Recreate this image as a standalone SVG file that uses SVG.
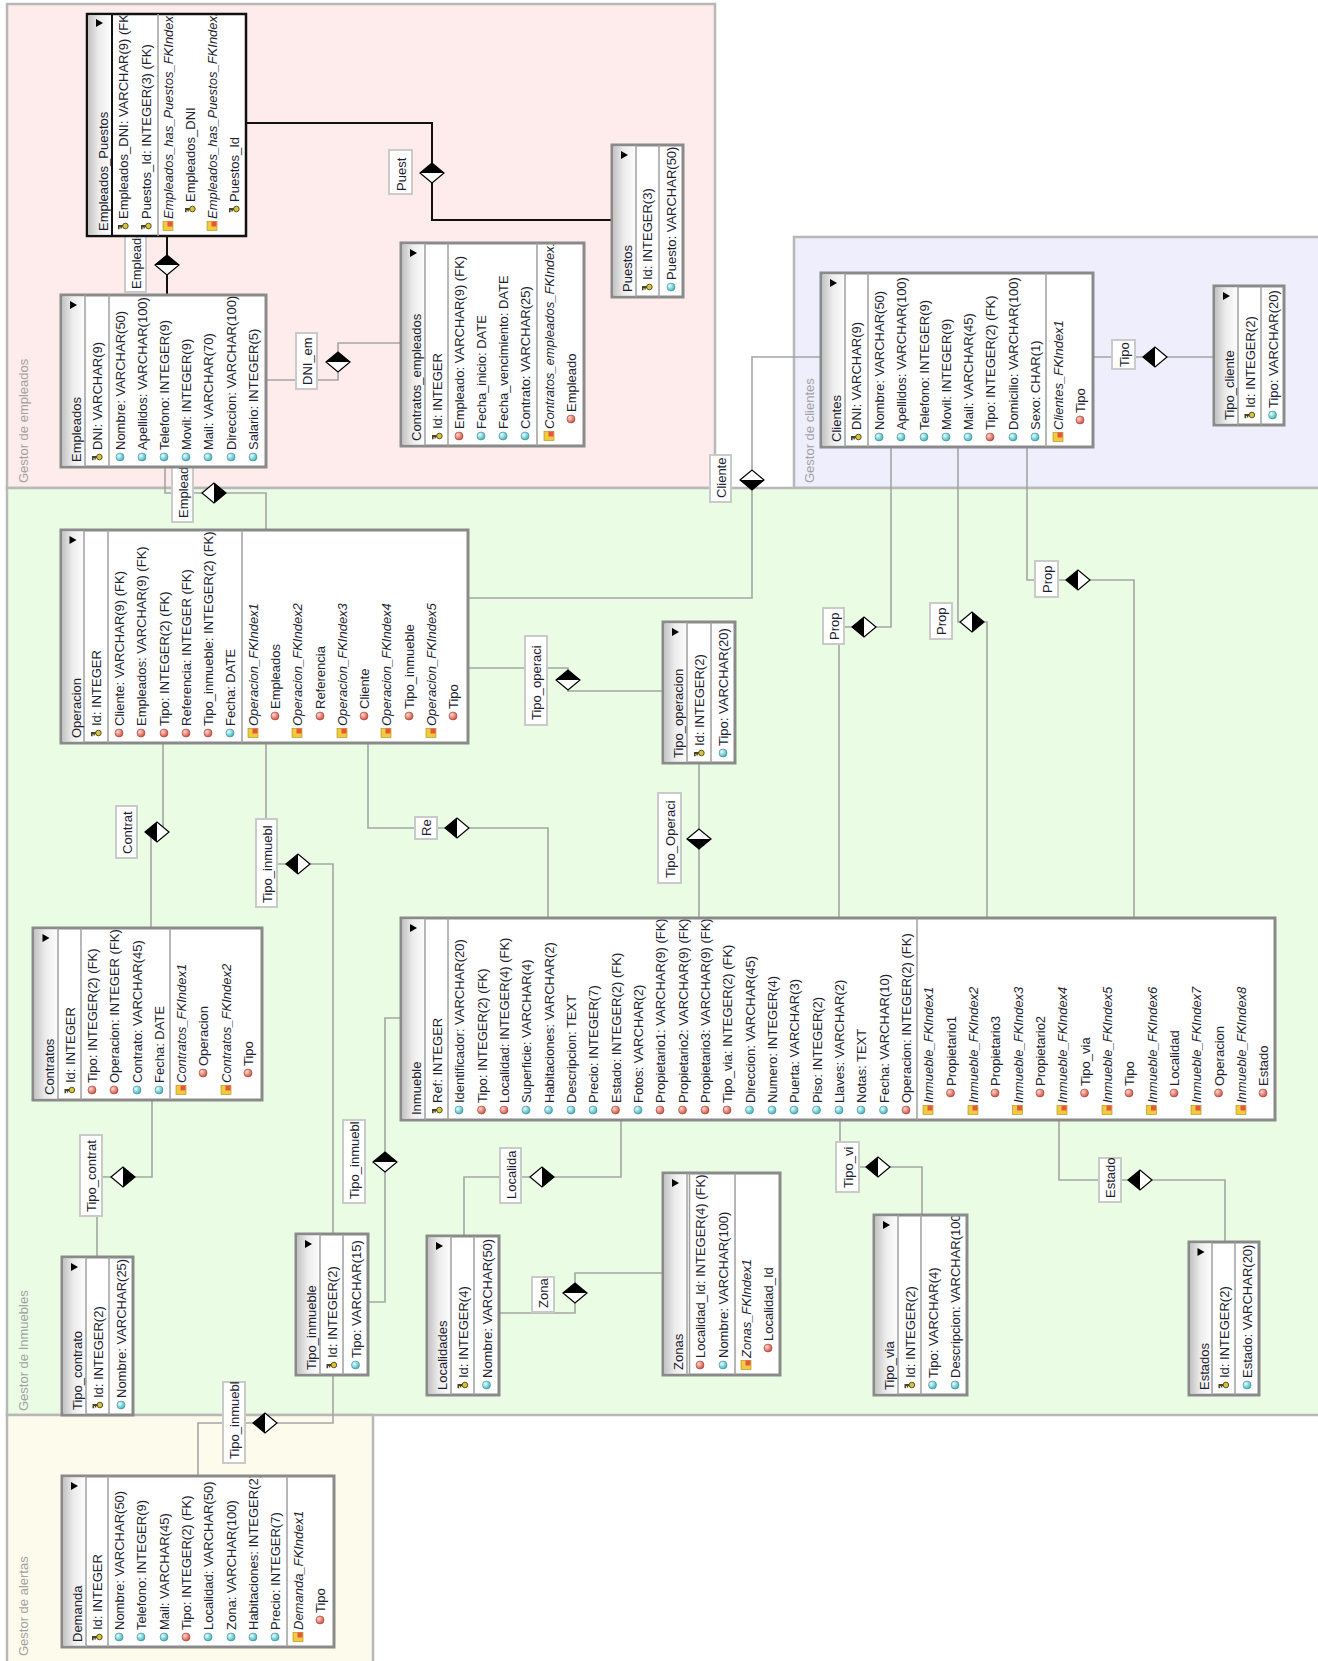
<svg xmlns="http://www.w3.org/2000/svg" width="1318" height="1661" viewBox="0 0 1318 1661">
<defs>
<style>
.t{font-family:"Liberation Sans",Arial,sans-serif;font-size:13px;fill:#1e1e30}
.i{font-style:italic}
.rg{font-family:"Liberation Sans",Arial,sans-serif;font-size:13px;fill:#a3a3a3}
.tb{fill:#fff;stroke:#8a8a8a;stroke-width:3}
.tbs{fill:#fff;stroke:#111;stroke-width:2.5}
.sp{stroke:#a0a0a0;stroke-width:1.5;fill:none}
.spk{stroke:#111;stroke-width:2;fill:none}
.hd{fill:url(#gh)}
.cn{fill:none;stroke:#a5a5a5;stroke-width:1.6}
.ck{fill:none;stroke:#111;stroke-width:2}
.lb{fill:#fff;stroke:#cacaca;stroke-width:2}
.reg{stroke:#b8b8b8;stroke-width:2.5}
</style>
<linearGradient id="gh" x1="0" y1="0" x2="1" y2="0"><stop offset="0" stop-color="#c4c4c4"/><stop offset="0.45" stop-color="#ececec"/><stop offset="1" stop-color="#fdfdfd"/></linearGradient>
<radialGradient id="gc" cx="0.35" cy="0.35" r="0.7"><stop offset="0" stop-color="#e8ffff"/><stop offset="1" stop-color="#38aebb"/></radialGradient>
<radialGradient id="gr" cx="0.35" cy="0.35" r="0.7"><stop offset="0" stop-color="#ffd8d0"/><stop offset="1" stop-color="#cc4b3c"/></radialGradient>
<g id="k"><path d="M-5-1h5v2h-5zM-5 1h1.6v2.2h-1.6zM-2.6 1h1.4v1.6h-1.4z" fill="#4a4420"/><circle cx="2.4" cy="0" r="2.8" fill="#d8c33a" stroke="#4a4420" stroke-width="0.9"/></g>
<circle id="c" r="4" fill="url(#gc)" stroke="#3d8f99" stroke-width="0.6"/>
<circle id="r" r="4" fill="url(#gr)" stroke="#a84030" stroke-width="0.6"/>
<g id="x"><rect x="-5" y="-4.5" width="10" height="9" fill="#f0cc3c" stroke="#b08a18" stroke-width="0.6"/><rect x="-0.5" y="-4.5" width="5" height="5" fill="#e8553d"/></g>
<g id="dt"><path d="M-12 0L0-10L12 0L0 10Z" fill="#fff" stroke="#000" stroke-width="1.2"/><path d="M-12 0L0-10L12 0Z"/></g>
<g id="db"><path d="M-12 0L0-10L12 0L0 10Z" fill="#fff" stroke="#000" stroke-width="1.2"/><path d="M-12 0L0 10L12 0Z"/></g>
<g id="dl"><path d="M-12 0L0-10L12 0L0 10Z" fill="#fff" stroke="#000" stroke-width="1.2"/><path d="M0-10L-12 0L0 10Z"/></g>
<g id="dr"><path d="M-12 0L0-10L12 0L0 10Z" fill="#fff" stroke="#000" stroke-width="1.2"/><path d="M0-10L12 0L0 10Z"/></g>
<clipPath id="c1"><rect x="88.5" y="15.5" width="156" height="219"/></clipPath>
<clipPath id="c2"><rect x="613.5" y="146.5" width="68" height="149"/></clipPath>
<clipPath id="c3"><rect x="62.5" y="296.5" width="202" height="169"/></clipPath>
<clipPath id="c4"><rect x="402.5" y="244.5" width="180" height="200"/></clipPath>
<clipPath id="c5"><rect x="822.5" y="274.5" width="269" height="171"/></clipPath>
<clipPath id="c6"><rect x="1215.5" y="287.5" width="67" height="136"/></clipPath>
<clipPath id="c7"><rect x="62.5" y="531.5" width="404" height="210"/></clipPath>
<clipPath id="c8"><rect x="664.5" y="623.5" width="69" height="138"/></clipPath>
<clipPath id="c9"><rect x="34.5" y="929.5" width="226" height="169"/></clipPath>
<clipPath id="c10"><rect x="402.5" y="919.5" width="871" height="199"/></clipPath>
<clipPath id="c11"><rect x="63.5" y="1258.5" width="68" height="155"/></clipPath>
<clipPath id="c12"><rect x="297.5" y="1235.5" width="69" height="138"/></clipPath>
<clipPath id="c13"><rect x="428.5" y="1237.5" width="69" height="156"/></clipPath>
<clipPath id="c14"><rect x="664.5" y="1174.5" width="114" height="199"/></clipPath>
<clipPath id="c15"><rect x="875.5" y="1216.5" width="90" height="177"/></clipPath>
<clipPath id="c16"><rect x="1190.5" y="1243.5" width="67" height="150"/></clipPath>
<clipPath id="c17"><rect x="63.5" y="1477.5" width="269" height="168"/></clipPath>
</defs>

<g id="regions">
<rect class="reg" x="7" y="4" width="708" height="484" fill="#fdeceb"/>
<rect class="reg" x="794" y="237" width="540" height="251" fill="#eeeefd"/>
<rect class="reg" x="7" y="488" width="1330" height="927" fill="#eafde4"/>
<rect class="reg" x="7" y="1415" width="366" height="270" fill="#fdfbec"/>
</g>

<g id="connectors">
<path class="ck" d="M246 123H432V220H612M167 236V295"/>
<path class="cn" d="M266 380H338V343H401M165 467V493H266V530M821 357H752V598H468M1093 357H1214M468 668H568V691H663M699 763V918M891 447V627H839V918M958 447V622H987V918M1027 447V580H1134V918M163 743V832H151V928M266 743V864H333V1234M368 743V828H548V918M152 1100V1177H97V1257M401 1018H385V1302H368M333 1375V1423H198V1476M621 1120V1177H464V1236M663 1273H575V1313H499M840 1120V1167H922V1215M1059 1120V1180H1225V1242"/>
<rect class="lb" x="389" y="150" width="23" height="44"/><text class="t" transform="translate(405.5,191)rotate(-90)">Puest</text>
<rect class="lb" x="125" y="222" width="21" height="70"/><text class="t" transform="translate(140.5,289)rotate(-90)">Empleado</text>
<rect class="lb" x="296" y="333" width="21" height="56"/><text class="t" transform="translate(311.5,385)rotate(-90)">DNI_em</text>
<rect class="lb" x="172" y="455" width="21" height="67"/><text class="t" transform="translate(187.5,518)rotate(-90)">Empleado</text>
<rect class="lb" x="710" y="455" width="21" height="47"/><text class="t" transform="translate(725.5,498)rotate(-90)">Cliente</text>
<rect class="lb" x="1112" y="340" width="23" height="29"/><text class="t" transform="translate(1128.5,367)rotate(-90)">Tipo</text>
<rect class="lb" x="525" y="636" width="22" height="89"/><text class="t" transform="translate(541,720)rotate(-90)">Tipo_operaci</text>
<rect class="lb" x="658" y="793" width="23" height="90"/><text class="t" transform="translate(674.5,878)rotate(-90)">Tipo_Operaci</text>
<rect class="lb" x="823" y="608" width="21" height="36"/><text class="t" transform="translate(838.5,640)rotate(-90)">Prop</text>
<rect class="lb" x="930" y="603" width="22" height="36"/><text class="t" transform="translate(946,635)rotate(-90)">Prop</text>
<rect class="lb" x="1035" y="561" width="23" height="36"/><text class="t" transform="translate(1051.5,593)rotate(-90)">Prop</text>
<rect class="lb" x="116" y="806" width="21" height="52"/><text class="t" transform="translate(131.5,854)rotate(-90)">Contrat</text>
<rect class="lb" x="256" y="819" width="21" height="88"/><text class="t" transform="translate(271.5,903)rotate(-90)">Tipo_inmuebl</text>
<rect class="lb" x="415" y="817" width="22" height="22"/><text class="t" transform="translate(431,836)rotate(-90)">Re</text>
<rect class="lb" x="80" y="1135" width="22" height="81"/><text class="t" transform="translate(96,1212)rotate(-90)">Tipo_contrat</text>
<rect class="lb" x="343" y="1120" width="22" height="83"/><text class="t" transform="translate(359,1199)rotate(-90)">Tipo_inmuebl</text>
<rect class="lb" x="223" y="1382" width="22" height="81"/><text class="t" transform="translate(239,1459)rotate(-90)">Tipo_inmuebl</text>
<rect class="lb" x="500" y="1148" width="21" height="55"/><text class="t" transform="translate(515.5,1199)rotate(-90)">Localida</text>
<rect class="lb" x="532" y="1277" width="22" height="35"/><text class="t" transform="translate(548,1308)rotate(-90)">Zona</text>
<rect class="lb" x="836" y="1142" width="23" height="50"/><text class="t" transform="translate(852.5,1188)rotate(-90)">Tipo_vi</text>
<rect class="lb" x="1099" y="1158" width="22" height="44"/><text class="t" transform="translate(1115,1198)rotate(-90)">Estado</text>
<use href="#dt" x="432" y="173"/>
<use href="#dt" x="167" y="265"/>
<use href="#dt" x="338" y="362"/>
<use href="#dr" x="214" y="493"/>
<use href="#db" x="752" y="480"/>
<use href="#dl" x="1155" y="357"/>
<use href="#dt" x="568" y="680"/>
<use href="#db" x="699" y="839"/>
<use href="#dl" x="864" y="627"/>
<use href="#dr" x="972" y="622"/>
<use href="#dl" x="1078" y="580"/>
<use href="#dl" x="157" y="832"/>
<use href="#dl" x="298" y="864"/>
<use href="#dl" x="457" y="828"/>
<use href="#dr" x="123" y="1177"/>
<use href="#dt" x="385" y="1162"/>
<use href="#dl" x="265" y="1423"/>
<use href="#dr" x="542" y="1177"/>
<use href="#dt" x="575" y="1293"/>
<use href="#dl" x="878" y="1167"/>
<use href="#dl" x="1140" y="1180"/>
</g>

<g id="Empleados_Puestos">
<rect class="tbs" x="87" y="14" width="159" height="222"/>
<rect class="hd" x="88.5" y="15.5" width="23" height="219"/>
<path class="spk" d="M112 14V236"/><path class="sp" d="M158 14V236"/>
<path d="M96 19l7 4-7 4z"/>
<g clip-path="url(#c1)">
<text class="t" transform="translate(107.5,231)rotate(-90)">Empleados_Puestos</text>
<text class="t" transform="translate(128,219)rotate(-90)">Empleados_DNI: VARCHAR(9) (FK)</text>
<text class="t" transform="translate(151,219)rotate(-90)">Puestos_Id: INTEGER(3) (FK)</text>
<text class="t i" transform="translate(173,219)rotate(-90)">Empleados_has_Puestos_FKIndex1</text>
<text class="t" transform="translate(195,202)rotate(-90)">Empleados_DNI</text>
<text class="t i" transform="translate(217,219)rotate(-90)">Empleados_has_Puestos_FKIndex2</text>
<text class="t" transform="translate(239,202)rotate(-90)">Puestos_Id</text>
</g>
<use href="#k" x="123" y="226"/><use href="#k" x="146" y="226"/><use href="#x" x="168" y="226"/><use href="#k" x="190" y="209"/><use href="#x" x="212" y="226"/><use href="#k" x="234" y="209"/>
</g>

<g id="Puestos">
<rect class="tb" x="612" y="145" width="71" height="152"/>
<rect class="hd" x="613.5" y="146.5" width="22.5" height="149"/>
<path class="sp" d="M636 145V297M659 145V297"/>
<path d="M621 151l7 4-7 4z"/>
<g clip-path="url(#c2)">
<text class="t" transform="translate(632,292)rotate(-90)">Puestos</text>
<text class="t" transform="translate(652,280)rotate(-90)">Id: INTEGER(3)</text>
<text class="t" transform="translate(676,280)rotate(-90)">Puesto: VARCHAR(50)</text>
</g>
<use href="#k" x="647" y="287"/><use href="#c" x="671" y="287"/>
</g>

<g id="Empleados">
<rect class="tb" x="61" y="295" width="205" height="172"/>
<rect class="hd" x="62.5" y="296.5" width="22.5" height="169"/>
<path class="sp" d="M85 295V467M109 295V467"/>
<path d="M70 301l7 4-7 4z"/>
<g clip-path="url(#c3)">
<text class="t" transform="translate(81,462)rotate(-90)">Empleados</text>
<text class="t" transform="translate(102,450)rotate(-90)">DNI: VARCHAR(9)</text>
<text class="t" transform="translate(125,450)rotate(-90)">Nombre: VARCHAR(50)</text>
<text class="t" transform="translate(147,450)rotate(-90)">Apellidos: VARCHAR(100)</text>
<text class="t" transform="translate(169,450)rotate(-90)">Telefono: INTEGER(9)</text>
<text class="t" transform="translate(191,450)rotate(-90)">Movil: INTEGER(9)</text>
<text class="t" transform="translate(213,450)rotate(-90)">Mail: VARCHAR(70)</text>
<text class="t" transform="translate(236,450)rotate(-90)">Direccion: VARCHAR(100)</text>
<text class="t" transform="translate(258,450)rotate(-90)">Salario: INTEGER(5)</text>
</g>
<use href="#k" x="97" y="457"/><use href="#c" x="120" y="457"/><use href="#c" x="142" y="457"/><use href="#c" x="164" y="457"/><use href="#c" x="186" y="457"/><use href="#c" x="208" y="457"/><use href="#c" x="231" y="457"/><use href="#c" x="253" y="457"/>
</g>

<g id="Contratos_empleados">
<rect class="tb" x="401" y="243" width="183" height="203"/>
<rect class="hd" x="402.5" y="244.5" width="22.5" height="200"/>
<path class="sp" d="M425 243V446M448 243V446M537 243V446"/>
<path d="M410 249l7 4-7 4z"/>
<g clip-path="url(#c4)">
<text class="t" transform="translate(421,441)rotate(-90)">Contratos_empleados</text>
<text class="t" transform="translate(442,429)rotate(-90)">Id: INTEGER</text>
<text class="t" transform="translate(464,429)rotate(-90)">Empleado: VARCHAR(9) (FK)</text>
<text class="t" transform="translate(486,429)rotate(-90)">Fecha_inicio: DATE</text>
<text class="t" transform="translate(508,429)rotate(-90)">Fecha_vencimiento: DATE</text>
<text class="t" transform="translate(530,429)rotate(-90)">Contrato: VARCHAR(25)</text>
<text class="t i" transform="translate(554,429)rotate(-90)">Contratos_empleados_FKIndex1</text>
<text class="t" transform="translate(576,412)rotate(-90)">Empleado</text>
</g>
<use href="#k" x="437" y="436"/><use href="#r" x="459" y="436"/><use href="#c" x="481" y="436"/><use href="#c" x="503" y="436"/><use href="#c" x="525" y="436"/><use href="#x" x="549" y="436"/><use href="#r" x="571" y="419"/>
</g>

<g id="Clientes">
<rect class="tb" x="821" y="273" width="272" height="174"/>
<rect class="hd" x="822.5" y="274.5" width="22.5" height="171"/>
<path class="sp" d="M845 273V447M868 273V447M1046 273V447"/>
<path d="M830 279l7 4-7 4z"/>
<g clip-path="url(#c5)">
<text class="t" transform="translate(841,442)rotate(-90)">Clientes</text>
<text class="t" transform="translate(861,430)rotate(-90)">DNI: VARCHAR(9)</text>
<text class="t" transform="translate(884,430)rotate(-90)">Nombre: VARCHAR(50)</text>
<text class="t" transform="translate(906,430)rotate(-90)">Apellidos: VARCHAR(100)</text>
<text class="t" transform="translate(929,430)rotate(-90)">Telefono: INTEGER(9)</text>
<text class="t" transform="translate(951,430)rotate(-90)">Movil: INTEGER(9)</text>
<text class="t" transform="translate(973,430)rotate(-90)">Mail: VARCHAR(45)</text>
<text class="t" transform="translate(995,430)rotate(-90)">Tipo: INTEGER(2) (FK)</text>
<text class="t" transform="translate(1018,430)rotate(-90)">Domicilio: VARCHAR(100)</text>
<text class="t" transform="translate(1040,430)rotate(-90)">Sexo: CHAR(1)</text>
<text class="t i" transform="translate(1063,430)rotate(-90)">Clientes_FKIndex1</text>
<text class="t" transform="translate(1085,413)rotate(-90)">Tipo</text>
</g>
<use href="#k" x="856" y="437"/><use href="#c" x="879" y="437"/><use href="#c" x="901" y="437"/><use href="#c" x="924" y="437"/><use href="#c" x="946" y="437"/><use href="#c" x="968" y="437"/><use href="#r" x="990" y="437"/><use href="#c" x="1013" y="437"/><use href="#c" x="1035" y="437"/><use href="#x" x="1058" y="437"/><use href="#r" x="1080" y="420"/>
</g>

<g id="Tipo_cliente">
<rect class="tb" x="1214" y="286" width="70" height="139"/>
<rect class="hd" x="1215.5" y="287.5" width="22.5" height="136"/>
<path class="sp" d="M1238 286V425M1261 286V425"/>
<path d="M1223 292l7 4-7 4z"/>
<g clip-path="url(#c6)">
<text class="t" transform="translate(1234,420)rotate(-90)">Tipo_cliente</text>
<text class="t" transform="translate(1254.5,408)rotate(-90)">Id: INTEGER(2)</text>
<text class="t" transform="translate(1277.5,408)rotate(-90)">Tipo: VARCHAR(20)</text>
</g>
<use href="#k" x="1249.5" y="415"/><use href="#c" x="1272.5" y="415"/>
</g>

<g id="Operacion">
<rect class="tb" x="61" y="530" width="407" height="213"/>
<rect class="hd" x="62.5" y="531.5" width="21.5" height="210"/>
<path class="sp" d="M84 530V743M108 530V743M242 530V743"/>
<path d="M69.5 536l7 4-7 4z"/>
<g clip-path="url(#c7)">
<text class="t" transform="translate(80.5,738)rotate(-90)">Operacion</text>
<text class="t" transform="translate(101,726)rotate(-90)">Id: INTEGER</text>
<text class="t" transform="translate(124,726)rotate(-90)">Cliente: VARCHAR(9) (FK)</text>
<text class="t" transform="translate(146,726)rotate(-90)">Empleados: VARCHAR(9) (FK)</text>
<text class="t" transform="translate(169,726)rotate(-90)">Tipo: INTEGER(2) (FK)</text>
<text class="t" transform="translate(191,726)rotate(-90)">Referencia: INTEGER (FK)</text>
<text class="t" transform="translate(213,726)rotate(-90)">Tipo_inmueble: INTEGER(2) (FK)</text>
<text class="t" transform="translate(235,726)rotate(-90)">Fecha: DATE</text>
<text class="t i" transform="translate(258,726)rotate(-90)">Operacion_FKIndex1</text>
<text class="t" transform="translate(280,709)rotate(-90)">Empleados</text>
<text class="t i" transform="translate(302,726)rotate(-90)">Operacion_FKIndex2</text>
<text class="t" transform="translate(325,709)rotate(-90)">Referencia</text>
<text class="t i" transform="translate(347,726)rotate(-90)">Operacion_FKIndex3</text>
<text class="t" transform="translate(369,709)rotate(-90)">Cliente</text>
<text class="t i" transform="translate(391,726)rotate(-90)">Operacion_FKIndex4</text>
<text class="t" transform="translate(414,709)rotate(-90)">Tipo_inmueble</text>
<text class="t i" transform="translate(436,726)rotate(-90)">Operacion_FKIndex5</text>
<text class="t" transform="translate(458,709)rotate(-90)">Tipo</text>
</g>
<use href="#k" x="96" y="733"/><use href="#r" x="119" y="733"/><use href="#r" x="141" y="733"/><use href="#r" x="164" y="733"/><use href="#r" x="186" y="733"/><use href="#r" x="208" y="733"/><use href="#c" x="230" y="733"/>
<use href="#x" x="253" y="733"/><use href="#r" x="275" y="716"/><use href="#x" x="297" y="733"/><use href="#r" x="320" y="716"/><use href="#x" x="342" y="733"/><use href="#r" x="364" y="716"/><use href="#x" x="386" y="733"/><use href="#r" x="409" y="716"/><use href="#x" x="431" y="733"/><use href="#r" x="453" y="716"/>
</g>

<g id="Tipo_operacion">
<rect class="tb" x="663" y="622" width="72" height="141"/>
<rect class="hd" x="664.5" y="623.5" width="22.5" height="138"/>
<path class="sp" d="M687 622V763M711 622V763"/>
<path d="M672 628l7 4-7 4z"/>
<g clip-path="url(#c8)">
<text class="t" transform="translate(683,758)rotate(-90)">Tipo_operacion</text>
<text class="t" transform="translate(704,746)rotate(-90)">Id: INTEGER(2)</text>
<text class="t" transform="translate(728,746)rotate(-90)">Tipo: VARCHAR(20)</text>
</g>
<use href="#k" x="699" y="753"/><use href="#c" x="723" y="753"/>
</g>

<g id="Contratos">
<rect class="tb" x="33" y="928" width="229" height="172"/>
<rect class="hd" x="34.5" y="929.5" width="23.5" height="169"/>
<path class="sp" d="M58 928V1100M81 928V1100M170 928V1100"/>
<path d="M42.5 934l7 4-7 4z"/>
<g clip-path="url(#c9)">
<text class="t" transform="translate(53.5,1095)rotate(-90)">Contratos</text>
<text class="t" transform="translate(74.5,1083)rotate(-90)">Id: INTEGER</text>
<text class="t" transform="translate(97,1083)rotate(-90)">Tipo: INTEGER(2) (FK)</text>
<text class="t" transform="translate(119,1083)rotate(-90)">Operacion: INTEGER (FK)</text>
<text class="t" transform="translate(142,1083)rotate(-90)">Contrato: VARCHAR(45)</text>
<text class="t" transform="translate(164,1083)rotate(-90)">Fecha: DATE</text>
<text class="t i" transform="translate(186,1083)rotate(-90)">Contratos_FKIndex1</text>
<text class="t" transform="translate(208,1066)rotate(-90)">Operacion</text>
<text class="t i" transform="translate(231,1083)rotate(-90)">Contratos_FKIndex2</text>
<text class="t" transform="translate(253,1066)rotate(-90)">Tipo</text>
</g>
<use href="#k" x="69.5" y="1090"/><use href="#r" x="92" y="1090"/><use href="#r" x="114" y="1090"/><use href="#c" x="137" y="1090"/><use href="#c" x="159" y="1090"/><use href="#x" x="181" y="1090"/><use href="#r" x="203" y="1073"/><use href="#x" x="226" y="1090"/><use href="#r" x="248" y="1073"/>
</g>

<g id="Inmueble">
<rect class="tb" x="401" y="918" width="874" height="202"/>
<rect class="hd" x="402.5" y="919.5" width="22.5" height="199"/>
<path class="sp" d="M425 918V1120M448 918V1120M917 918V1120"/>
<path d="M410 924l7 4-7 4z"/>
<g clip-path="url(#c10)">
<text class="t" transform="translate(421,1115)rotate(-90)">Inmueble</text>
<text class="t" transform="translate(442,1103)rotate(-90)">Ref: INTEGER</text>
<text class="t" transform="translate(464,1103)rotate(-90)">Identificador: VARCHAR(20)</text>
<text class="t" transform="translate(486.5,1103)rotate(-90)">Tipo: INTEGER(2) (FK)</text>
<text class="t" transform="translate(509,1103)rotate(-90)">Localidad: INTEGER(4) (FK)</text>
<text class="t" transform="translate(531,1103)rotate(-90)">Superficie: VARCHAR(4)</text>
<text class="t" transform="translate(553.5,1103)rotate(-90)">Habitaciones: VARCHAR(2)</text>
<text class="t" transform="translate(576,1103)rotate(-90)">Descripcion: TEXT</text>
<text class="t" transform="translate(598,1103)rotate(-90)">Precio: INTEGER(7)</text>
<text class="t" transform="translate(620.5,1103)rotate(-90)">Estado: INTEGER(2) (FK)</text>
<text class="t" transform="translate(643,1103)rotate(-90)">Fotos: VARCHAR(2)</text>
<text class="t" transform="translate(665,1103)rotate(-90)">Propietario1: VARCHAR(9) (FK)</text>
<text class="t" transform="translate(687.5,1103)rotate(-90)">Propietario2: VARCHAR(9) (FK)</text>
<text class="t" transform="translate(710,1103)rotate(-90)">Propietario3: VARCHAR(9) (FK)</text>
<text class="t" transform="translate(732,1103)rotate(-90)">Tipo_via: INTEGER(2) (FK)</text>
<text class="t" transform="translate(754.5,1103)rotate(-90)">Direccion: VARCHAR(45)</text>
<text class="t" transform="translate(777,1103)rotate(-90)">Numero: INTEGER(4)</text>
<text class="t" transform="translate(799,1103)rotate(-90)">Puerta: VARCHAR(3)</text>
<text class="t" transform="translate(821.5,1103)rotate(-90)">Piso: INTEGER(2)</text>
<text class="t" transform="translate(844,1103)rotate(-90)">Llaves: VARCHAR(2)</text>
<text class="t" transform="translate(866,1103)rotate(-90)">Notas: TEXT</text>
<text class="t" transform="translate(888.5,1103)rotate(-90)">Fecha: VARCHAR(10)</text>
<text class="t" transform="translate(911,1103)rotate(-90)">Operacion: INTEGER(2) (FK)</text>
<text class="t i" transform="translate(933,1103)rotate(-90)">Inmueble_FKIndex1</text>
<text class="t" transform="translate(955.5,1086)rotate(-90)">Propietario1</text>
<text class="t i" transform="translate(978,1103)rotate(-90)">Inmueble_FKIndex2</text>
<text class="t" transform="translate(1000,1086)rotate(-90)">Propietario3</text>
<text class="t i" transform="translate(1022.5,1103)rotate(-90)">Inmueble_FKIndex3</text>
<text class="t" transform="translate(1045,1086)rotate(-90)">Propietario2</text>
<text class="t i" transform="translate(1067,1103)rotate(-90)">Inmueble_FKIndex4</text>
<text class="t" transform="translate(1089.5,1086)rotate(-90)">Tipo_via</text>
<text class="t i" transform="translate(1112,1103)rotate(-90)">Inmueble_FKIndex5</text>
<text class="t" transform="translate(1134,1086)rotate(-90)">Tipo</text>
<text class="t i" transform="translate(1156.5,1103)rotate(-90)">Inmueble_FKIndex6</text>
<text class="t" transform="translate(1179,1086)rotate(-90)">Localidad</text>
<text class="t i" transform="translate(1201,1103)rotate(-90)">Inmueble_FKIndex7</text>
<text class="t" transform="translate(1223.5,1086)rotate(-90)">Operacion</text>
<text class="t i" transform="translate(1246,1103)rotate(-90)">Inmueble_FKIndex8</text>
<text class="t" transform="translate(1268,1086)rotate(-90)">Estado</text>
</g>
<use href="#k" x="437" y="1110"/><use href="#c" x="459" y="1110"/><use href="#r" x="481.5" y="1110"/><use href="#r" x="504" y="1110"/><use href="#c" x="526" y="1110"/><use href="#c" x="548.5" y="1110"/><use href="#c" x="571" y="1110"/><use href="#c" x="593" y="1110"/><use href="#r" x="615.5" y="1110"/><use href="#c" x="638" y="1110"/><use href="#r" x="660" y="1110"/><use href="#r" x="682.5" y="1110"/><use href="#r" x="705" y="1110"/><use href="#r" x="727" y="1110"/><use href="#c" x="749.5" y="1110"/><use href="#c" x="772" y="1110"/><use href="#c" x="794" y="1110"/><use href="#c" x="816.5" y="1110"/><use href="#c" x="839" y="1110"/><use href="#c" x="861" y="1110"/><use href="#c" x="883.5" y="1110"/><use href="#r" x="906" y="1110"/>
<use href="#x" x="928" y="1110"/><use href="#r" x="950.5" y="1093"/><use href="#x" x="973" y="1110"/><use href="#r" x="995" y="1093"/><use href="#x" x="1017.5" y="1110"/><use href="#r" x="1040" y="1093"/><use href="#x" x="1062" y="1110"/><use href="#r" x="1084.5" y="1093"/><use href="#x" x="1107" y="1110"/><use href="#r" x="1129" y="1093"/><use href="#x" x="1151.5" y="1110"/><use href="#r" x="1174" y="1093"/><use href="#x" x="1196" y="1110"/><use href="#r" x="1218.5" y="1093"/><use href="#x" x="1241" y="1110"/><use href="#r" x="1263" y="1093"/>
</g>

<g id="Tipo_contrato">
<rect class="tb" x="62" y="1257" width="71" height="158"/>
<rect class="hd" x="63.5" y="1258.5" width="22.5" height="155"/>
<path class="sp" d="M86 1257V1415M109 1257V1415"/>
<path d="M71 1263l7 4-7 4z"/>
<g clip-path="url(#c11)">
<text class="t" transform="translate(82,1410)rotate(-90)">Tipo_contrato</text>
<text class="t" transform="translate(102.5,1398)rotate(-90)">Id: INTEGER(2)</text>
<text class="t" transform="translate(126,1398)rotate(-90)">Nombre: VARCHAR(25)</text>
</g>
<use href="#k" x="97.5" y="1405"/><use href="#c" x="121" y="1405"/>
</g>

<g id="Tipo_inmueble">
<rect class="tb" x="296" y="1234" width="72" height="141"/>
<rect class="hd" x="297.5" y="1235.5" width="22.5" height="138"/>
<path class="sp" d="M320 1234V1375M343 1234V1375"/>
<path d="M305 1240l7 4-7 4z"/>
<g clip-path="url(#c12)">
<text class="t" transform="translate(316,1370)rotate(-90)">Tipo_inmueble</text>
<text class="t" transform="translate(336.5,1358)rotate(-90)">Id: INTEGER(2)</text>
<text class="t" transform="translate(360.5,1358)rotate(-90)">Tipo: VARCHAR(15)</text>
</g>
<use href="#k" x="331.5" y="1365"/><use href="#c" x="355.5" y="1365"/>
</g>

<g id="Localidades">
<rect class="tb" x="427" y="1236" width="72" height="159"/>
<rect class="hd" x="428.5" y="1237.5" width="22.5" height="156"/>
<path class="sp" d="M451 1236V1395M474 1236V1395"/>
<path d="M436 1242l7 4-7 4z"/>
<g clip-path="url(#c13)">
<text class="t" transform="translate(447,1390)rotate(-90)">Localidades</text>
<text class="t" transform="translate(467.5,1378)rotate(-90)">Id: INTEGER(4)</text>
<text class="t" transform="translate(491.5,1378)rotate(-90)">Nombre: VARCHAR(50)</text>
</g>
<use href="#k" x="462.5" y="1385"/><use href="#c" x="486.5" y="1385"/>
</g>

<g id="Zonas">
<rect class="tb" x="663" y="1173" width="117" height="202"/>
<rect class="hd" x="664.5" y="1174.5" width="22.5" height="199"/>
<path class="sp" d="M687 1173V1375M689.5 1173V1375M735 1173V1375"/>
<path d="M672 1179l7 4-7 4z"/>
<g clip-path="url(#c14)">
<text class="t" transform="translate(683,1370)rotate(-90)">Zonas</text>
<text class="t" transform="translate(705,1358)rotate(-90)">Localidad_Id: INTEGER(4) (FK)</text>
<text class="t" transform="translate(728,1358)rotate(-90)">Nombre: VARCHAR(100)</text>
<text class="t i" transform="translate(751,1358)rotate(-90)">Zonas_FKIndex1</text>
<text class="t" transform="translate(773,1341)rotate(-90)">Localidad_Id</text>
</g>
<use href="#r" x="700" y="1365"/><use href="#c" x="723" y="1365"/><use href="#x" x="746" y="1365"/><use href="#r" x="768" y="1348"/>
</g>

<g id="Tipo_via">
<rect class="tb" x="874" y="1215" width="93" height="180"/>
<rect class="hd" x="875.5" y="1216.5" width="22.5" height="177"/>
<path class="sp" d="M898 1215V1395M921 1215V1395"/>
<path d="M883 1221l7 4-7 4z"/>
<g clip-path="url(#c15)">
<text class="t" transform="translate(894,1390)rotate(-90)">Tipo_via</text>
<text class="t" transform="translate(914.5,1378)rotate(-90)">Id: INTEGER(2)</text>
<text class="t" transform="translate(937.5,1378)rotate(-90)">Tipo: VARCHAR(4)</text>
<text class="t" transform="translate(960,1378)rotate(-90)">Descripcion: VARCHAR(100)</text>
</g>
<use href="#k" x="909.5" y="1385"/><use href="#c" x="932.5" y="1385"/><use href="#c" x="955" y="1385"/>
</g>

<g id="Estados">
<rect class="tb" x="1189" y="1242" width="70" height="153"/>
<rect class="hd" x="1190.5" y="1243.5" width="21.5" height="150"/>
<path class="sp" d="M1212 1242V1395M1235 1242V1395"/>
<path d="M1197.5 1248l7 4-7 4z"/>
<g clip-path="url(#c16)">
<text class="t" transform="translate(1208.5,1390)rotate(-90)">Estados</text>
<text class="t" transform="translate(1228.5,1378)rotate(-90)">Id: INTEGER(2)</text>
<text class="t" transform="translate(1252,1378)rotate(-90)">Estado: VARCHAR(20)</text>
</g>
<use href="#k" x="1223.5" y="1385"/><use href="#c" x="1247" y="1385"/>
</g>

<g id="Demanda">
<rect class="tb" x="62" y="1476" width="272" height="171"/>
<rect class="hd" x="63.5" y="1477.5" width="22.5" height="168"/>
<path class="sp" d="M86 1476V1647M108 1476V1647M287 1476V1647"/>
<path d="M71 1482l7 4-7 4z"/>
<g clip-path="url(#c17)">
<text class="t" transform="translate(82,1642)rotate(-90)">Demanda</text>
<text class="t" transform="translate(102,1630)rotate(-90)">Id: INTEGER</text>
<text class="t" transform="translate(124,1630)rotate(-90)">Nombre: VARCHAR(50)</text>
<text class="t" transform="translate(146,1630)rotate(-90)">Telefono: INTEGER(9)</text>
<text class="t" transform="translate(169,1630)rotate(-90)">Mail: VARCHAR(45)</text>
<text class="t" transform="translate(191,1630)rotate(-90)">Tipo: INTEGER(2) (FK)</text>
<text class="t" transform="translate(213,1630)rotate(-90)">Localidad: VARCHAR(50)</text>
<text class="t" transform="translate(236,1630)rotate(-90)">Zona: VARCHAR(100)</text>
<text class="t" transform="translate(258,1630)rotate(-90)">Habitaciones: INTEGER(2)</text>
<text class="t" transform="translate(280,1630)rotate(-90)">Precio: INTEGER(7)</text>
<text class="t i" transform="translate(303,1630)rotate(-90)">Demanda_FKIndex1</text>
<text class="t" transform="translate(325,1613)rotate(-90)">Tipo</text>
</g>
<use href="#k" x="97" y="1637"/><use href="#c" x="119" y="1637"/><use href="#c" x="141" y="1637"/><use href="#c" x="164" y="1637"/><use href="#r" x="186" y="1637"/><use href="#c" x="208" y="1637"/><use href="#c" x="231" y="1637"/><use href="#c" x="253" y="1637"/><use href="#c" x="275" y="1637"/><use href="#x" x="298" y="1637"/><use href="#r" x="320" y="1620"/>
</g>

<g id="region-labels">
<text class="rg" transform="translate(28,483)rotate(-90)">Gestor de empleados</text>
<text class="rg" transform="translate(814,483)rotate(-90)">Gestor de clientes</text>
<text class="rg" transform="translate(28,1411)rotate(-90)">Gestor de Inmuebles</text>
<text class="rg" transform="translate(28,1656)rotate(-90)">Gestor de alertas</text>
</g>
</svg>
